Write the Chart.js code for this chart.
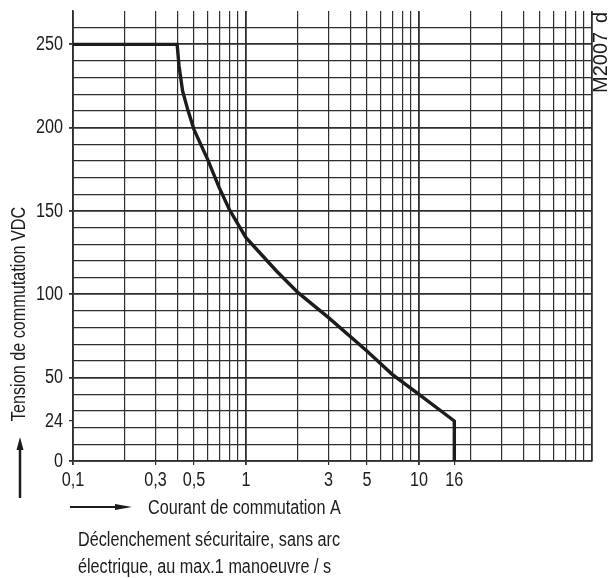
<!DOCTYPE html>
<html>
<head>
<meta charset="utf-8">
<script src="https://cdn.jsdelivr.net/npm/chart.js@4/dist/chart.umd.min.js"></script>
<style>
  html, body { margin: 0; padding: 0; background: #fff; }
  #wrap { width: 616px; height: 578px; }
</style>
</head>
<body>
<div id="wrap"><canvas id="grafico" width="616" height="578"></canvas></div>
<script>
// courbe : courant (A) / tension (VDC)
const courant = [0.1, 0.4, 0.41, 0.43, 0.46, 0.5, 0.6, 0.7, 0.8, 0.9, 1, 1.25, 1.5, 2, 3, 5, 7, 10, 16, 16];
const tension = [250, 250, 237, 222, 211, 199, 181, 164, 151, 142, 134, 123, 114, 101, 86, 66, 52, 40, 24, 0];

// lignes de la grille et libellés
const xGrille = [0.1, 0.2, 0.3, 0.4, 0.5, 0.6, 0.7, 0.8, 0.9, 1, 2, 3, 4, 5, 6, 7, 8, 9, 10, 20, 30, 40, 50, 60, 70, 80, 90, 100];
const xLibelles = [0.1, 0.3, 0.5, 1, 3, 5, 10, 16];
const yGrille = [0, 10, 20, 30, 40, 50, 60, 70, 80, 90, 100, 110, 120, 130, 140, 150, 160, 170, 180, 190, 200, 210, 220, 230, 240, 250, 260];
const yLibelles = [0, 24, 50, 100, 150, 200, 250];

const NOIR = '#1c1c1c';
const GRILLE = '#2e2e2e';
const POLICE = '20px "Liberation Sans", Arial, sans-serif';
const ETROIT = 0.81; // police condensée simulée

// texte condensé horizontalement
function texte(ctx, txt, x, y, align, angle) {
  ctx.save();
  ctx.translate(x, y);
  if (angle) ctx.rotate(angle);
  ctx.scale(ETROIT, 1);
  ctx.textAlign = align;
  ctx.fillText(txt, 0, 0);
  ctx.restore();
}

const textes = {
  id: 'textes',
  afterDraw(chart) {
    const ctx = chart.ctx;
    const sx = chart.scales.x;
    const sy = chart.scales.y;
    ctx.save();
    ctx.fillStyle = NOIR;
    ctx.strokeStyle = NOIR;
    ctx.font = POLICE;
    ctx.textBaseline = 'middle';

    // libellés des axes
    xLibelles.forEach(v => {
      texte(ctx, String(v).replace('.', ','), sx.getPixelForValue(v), 480, 'center');
    });
    yLibelles.forEach(v => {
      texte(ctx, String(v), 63, sy.getPixelForValue(v), 'right');
    });

    // titre axe Y
    texte(ctx, 'Tension de commutation VDC', 19, 314, 'center', -Math.PI / 2);

    // flèche vers le haut
    ctx.lineWidth = 2.5;
    ctx.beginPath();
    ctx.moveTo(20, 498);
    ctx.lineTo(20, 446);
    ctx.stroke();
    ctx.beginPath();
    ctx.moveTo(20, 437);
    ctx.lineTo(16.5, 450);
    ctx.lineTo(23.5, 450);
    ctx.closePath();
    ctx.fill();

    // flèche vers la droite
    ctx.lineWidth = 2;
    ctx.beginPath();
    ctx.moveTo(70, 507);
    ctx.lineTo(120, 507);
    ctx.stroke();
    ctx.beginPath();
    ctx.moveTo(132, 507);
    ctx.lineTo(115, 504);
    ctx.lineTo(115, 510);
    ctx.closePath();
    ctx.fill();

    texte(ctx, 'Courant de commutation A', 148, 508, 'left');
    texte(ctx, 'Déclenchement sécuritaire, sans arc', 78, 540, 'left');
    texte(ctx, 'électrique, au max.1 manoeuvre / s', 78, 567, 'left');

    // référence
    ctx.save();
    ctx.translate(607, 93);
    ctx.rotate(-Math.PI / 2);
    ctx.textAlign = 'left';
    ctx.textBaseline = 'alphabetic';
    ctx.fillText('M2007', 0, 0);
    ctx.fillText('d', 70, 0);
    ctx.restore();

    ctx.restore();
  }
};

const ctx = document.getElementById('grafico').getContext('2d');

new Chart(ctx, {
  type: 'line',
  data: {
    datasets: [{
      data: courant.map((c, i) => ({ x: c, y: tension[i] })),
      borderColor: NOIR,
      borderWidth: 3.4,
      pointRadius: 0,
      tension: 0,
      fill: false
    }]
  },
  options: {
    responsive: false,
    animation: false,
    layout: { padding: { top: 11, right: 24, left: 0, bottom: 0 } },
    plugins: {
      legend: { display: false },
      tooltip: { enabled: false }
    },
    scales: {
      x: {
        type: 'logarithmic',
        min: 0.1,
        max: 100,
        afterBuildTicks: (s) => {
          s.ticks = [...xGrille, 16].sort((a, b) => a - b).map(v => ({ value: v }));
        },
        afterFit: (s) => { s.height = 117; },
        border: { display: true, color: GRILLE, width: 1.5 },
        grid: {
          color: (c) => (c.tick && xGrille.includes(c.tick.value)) ? GRILLE : 'rgba(0,0,0,0)',
          lineWidth: (c) => (c.tick && [0.1, 1, 10, 100].includes(c.tick.value)) ? 1.8 : 1.2,
          tickColor: (c) => (c.tick && xLibelles.includes(c.tick.value)) ? GRILLE : 'rgba(0,0,0,0)',
          tickLength: 4,
          drawTicks: true
        },
        ticks: { display: false, autoSkip: false }
      },
      y: {
        type: 'linear',
        min: 0,
        max: 270,
        afterBuildTicks: (s) => {
          s.ticks = [...yGrille, 24].sort((a, b) => a - b).map(v => ({ value: v }));
        },
        afterFit: (s) => { s.width = 73; },
        border: { display: true, color: GRILLE, width: 1.5 },
        grid: {
          color: (c) => (c.tick && yGrille.includes(c.tick.value)) ? GRILLE : 'rgba(0,0,0,0)',
          lineWidth: (c) => (c.tick && c.tick.value % 50 === 0) ? 1.8 : 1.2,
          tickColor: (c) => (c.tick && yLibelles.includes(c.tick.value)) ? GRILLE : 'rgba(0,0,0,0)',
          tickLength: 4,
          drawTicks: true
        },
        ticks: { display: false, autoSkip: false }
      }
    }
  },
  plugins: [textes]
});
</script>
</body>
</html>
